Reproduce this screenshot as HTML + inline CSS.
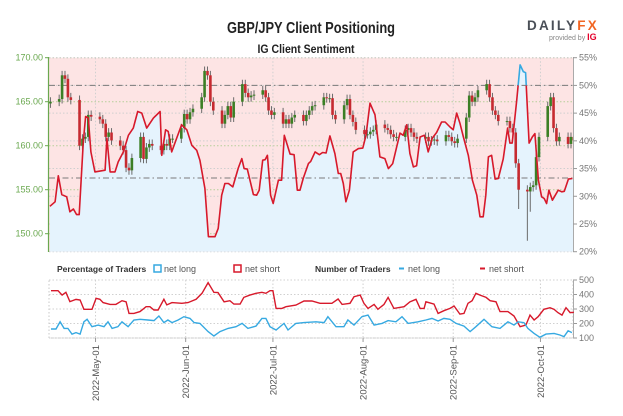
<!DOCTYPE html>
<html><head><meta charset="utf-8"><style>
html,body{margin:0;padding:0;background:#fff;}
svg{display:block;font-family:"Liberation Sans",sans-serif;}
</style></head><body>
<svg id="chart" width="623" height="416" viewBox="0 0 623 416" xmlns="http://www.w3.org/2000/svg">
<defs>
<clipPath id="plotClip"><rect x="49" y="57.7" width="524" height="194"/></clipPath>
<clipPath id="aboveHalf"><rect x="49" y="0" width="524" height="85.4"/></clipPath>
<clipPath id="belowHalf"><rect x="49" y="85.4" width="524" height="200"/></clipPath>
</defs>
<text x="311" y="33" text-anchor="middle" font-size="16" font-weight="bold" fill="#222" textLength="168" lengthAdjust="spacingAndGlyphs">GBP/JPY Client Positioning</text>
<text x="306" y="53" text-anchor="middle" font-size="12" font-weight="bold" fill="#222" textLength="97" lengthAdjust="spacingAndGlyphs">IG Client Sentiment</text>
<g>
<text x="527" y="30" font-size="13.5" font-weight="bold" fill="#4a4f57" letter-spacing="2.2">DAILY<tspan fill="#f26522">FX</tspan></text>
<text x="549" y="40" font-size="7" fill="#888">provided by <tspan fill="#e4002b" font-weight="bold" font-size="9">IG</tspan></text>
</g>
<rect x="49" y="57.7" width="524" height="194" fill="#fde4e4"/>
<g id="grid"></g>
<g id="pctFill" clip-path="url(#plotClip)"></g>
<g id="refLines"></g>
<g id="candles" clip-path="url(#plotClip)"></g>
<g id="pctLine"></g>
<g id="axes"></g>
<g font-size="9" fill="#333">
<text x="57" y="272" font-weight="bold" font-size="8.5">Percentage of Traders</text>
<rect x="154" y="265" width="7" height="7" fill="none" stroke="#36a9e1" stroke-width="1.5"/>
<text x="164" y="272" fill="#555">net long</text>
<rect x="234" y="265" width="7" height="7" fill="none" stroke="#d7192b" stroke-width="1.5"/>
<text x="245" y="272" fill="#555">net short</text>
<text x="315" y="272" font-weight="bold" font-size="8.5">Number of Traders</text>
<line x1="399" y1="268.5" x2="404" y2="268.5" stroke="#36a9e1" stroke-width="2"/>
<text x="408" y="272" fill="#555">net long</text>
<line x1="480" y1="268.5" x2="485" y2="268.5" stroke="#d7192b" stroke-width="2"/>
<text x="489" y="272" fill="#555">net short</text>
</g>
<g id="lower"></g>
</svg>
<script>
// ---- data ----
const monthLabels = ["2022-May-01","2022-Jun-01","2022-Jul-01","2022-Aug-01","2022-Sep-01","2022-Oct-01"];
const monthDays = [16,47,77,108,139,169];
const priceTicks = [150,155,160,165,170];
const pctTicks = [20,25,30,35,40,45,50,55];
const countTicks = [100,200,300,400,500];
const refPcts = [50,33.3];

const pctDays = [0.3,2.1,3.2,4.4,6.1,7.2,8.4,9.5,10.4,11.8,12.6,13.5,14.4,15.8,19.3,19.9,21,22.7,23.8,25.6,27.3,29,30.5,31.9,33.6,35.9,38.2,38.8,40.1,41,42.2,43.9,45.6,47.4,49.1,50.8,51.9,53.6,54.8,57.1,58.2,59.4,60.5,61.7,63.2,65.1,66.3,67.1,68.2,70.3,71.4,72.3,73.5,74.3,75.1,76.2,77.1,78.9,80,80.9,82.9,84.3,85.4,86.3,87.4,89.2,90,91.5,93,94.1,95.3,96.6,98.3,99.5,100.3,101.2,102.1,103.3,104.6,106.4,107.9,109,110.4,112.1,113.8,115.5,116.7,118.2,119,120.7,121.8,123,124.1,125.3,126.4,127.6,129.1,130.4,131.8,133.3,135,136.2,137.9,139,140.2,141.3,142.5,144.2,145.6,147.1,148.2,149.3,150.2,151.1,152.2,153.4,154.5,156.2,157.7,158.5,159.3,160.8,162,163.1,163.9,165.1,166.2,167.1,168.3,169.4,170.3,171.1,171.9,173.1,175.1,176.3,177.2,178.6,180];
const pctLong = [28.2,29.0,33.7,30.3,29.9,27.2,27.7,26.7,26.7,39.8,44.4,44.1,38.0,34.4,34.7,40.5,34.4,34.4,36.2,38.0,41.0,42.3,45.3,45.0,42.3,44.1,45.3,37.4,42.0,41.7,38.0,40.5,42.9,42.0,39.2,38.3,36.5,31.4,22.7,22.7,24.2,30.2,32.3,32.3,31.7,35.1,36.8,35.0,34.9,30.3,30.2,31.1,36.5,36.6,37.4,30.2,28.7,32.9,32.9,41.0,37.6,37.5,31.1,31.1,33.2,35.9,36.3,38.0,37.5,37.9,37.8,40.9,37.7,34.1,34.1,32.3,29.0,31.1,38.0,38.6,38.7,41.0,46.8,44.7,37.1,36.8,35.0,35.9,37.7,41.4,41.0,42.9,37.7,35.3,35.5,40.7,41.0,38.0,40.5,41.5,43.4,43.4,42.5,42.0,45.0,43.2,40.7,37.4,32.9,30.2,26.3,26.3,30.2,37.1,37.4,33.1,33.2,36.7,42.3,39.6,39.6,47.1,53.7,52.5,52.3,39.6,40.7,41.3,32.9,29.9,29.6,28.7,31.1,29.3,31.1,30.8,30.9,33.1,33.2,33.2];

const closes = [165.0,
165.3,168.0,167.6,165.5,165.2, 160.0,160.8,161.0,163.5,163.3, 163.0,162.5,161.0,161.5,160.6,
160.0,159.5,157.5,157.2,158.6, 161.0,158.5,159.8,160.2,160.0, 159.5,160.2,160.0,160.8,160.8,
162.0,163.6,163.0,163.8,164.2, 165.5,168.5,168.0,165.0,164.0, 162.5,163.5,164.5,163.2,165.0,
167.0,166.0,165.5,165.7,165.8, 166.3,165.5,164.0,163.5,163.8, 162.5,163.0,162.5,163.2,163.5,
162.8,163.5,164.0,164.5,164.6, 165.5,165.4,165.4,163.5,163.0, 164.6,165.3,163.5,162.7,161.8,
161.3,161.3,161.6,161.8,162.4, 162.0,161.8,161.3,161.0,161.0, 161.8,162.0,161.5,161.0,160.8,
161.0,160.5,160.6,160.7,160.5, 161.2,161.0,160.5,160.3,160.8, 163.2,165.7,165.0,165.5,166.3,
167.0,165.5,164.0,163.5,162.8, 162.8,162.0,161.5,158.0,155.0, 154.8,155.3,155.5,158.7,161.0,
164.5,165.5,162.0,160.5,161.0, 160.2,161.0,160.6];
const firstOpen = 164.8;
const wickSize = 0.5;
const extraLowIdx = [115,116,117];
const extraLowVal = [152.8,149.2,152.5];

const shortDays = [0.7,3.1,4.5,5.8,7.2,9.3,10.7,12,14.8,16.2,17.5,18.6,21,23,25.1,26.5,27.5,29.2,31.3,33.4,34.7,36.1,37.5,39.5,40.5,42.3,45.7,47.8,50.6,52.6,54.7,56.7,58.1,60.2,62.2,63.6,65.7,67,69.1,71.2,73.2,74.6,76,77,78.1,80.1,81.5,84.9,87.7,90.4,93.2,95.3,97.3,99.4,100.8,103.5,104.9,107,108.3,109.7,111.8,113.1,115.2,116.6,118.6,122.1,124.1,126.2,127.6,129,129.6,132.4,133.8,135.8,137.9,139.3,141.3,142.7,144.1,145.5,146.8,148.2,150.3,151.7,153.7,155.1,157.8,159.9,162,164,165.4,166.8,168.2,170.2,172.3,173.7,175,176.4,177.8,179.2,180.5];
const shortCount = [426,426,396,415,351,366,362,298,298,374,367,344,332,332,357,350,270,270,282,316,316,293,293,367,328,344,339,344,367,408,482,415,413,350,357,334,334,380,396,408,415,408,426,426,304,304,316,327,355,355,339,339,339,369,332,339,385,396,339,304,332,298,332,380,304,316,350,367,304,304,350,334,270,288,304,321,265,270,339,357,408,396,380,357,350,282,282,252,178,189,258,224,247,298,309,298,275,258,309,275,277];
const longDays = [0.7,2.4,3.8,5.2,6.5,7.9,9.3,10.7,12,13.1,14.8,16.9,18.9,20.3,21.7,23.7,25.1,27.2,29.2,31.3,34,36.1,37.8,39.5,40.9,42.3,44.4,46.4,48.5,49.9,51.9,54.7,56.7,58.8,61.6,64.3,66.4,68.4,71.2,73.2,74.6,76,78.1,80.8,82.2,84.9,87.7,91.8,94.6,95.9,98.7,101.4,102.8,104.9,107.6,109.7,111.8,114.5,116.6,119.3,121.4,123.5,126.9,129.6,131.7,133.8,135.8,137.9,140,142.7,144.8,146.8,149.6,152.3,155.1,157.8,159.9,161.3,163.3,164.7,166.8,168.8,170.9,173.7,175.7,177.1,178.5,179.8];
const longCount = [162,162,212,166,166,127,137,127,212,229,178,189,178,212,166,178,212,178,224,229,224,220,252,206,224,206,224,247,235,206,201,144,114,144,166,178,201,166,182,235,235,178,155,201,155,201,206,212,206,247,178,178,224,189,247,258,189,201,220,212,247,201,212,224,235,217,235,229,201,182,144,178,229,178,166,212,189,212,206,166,132,105,127,132,121,110,150,137];

// ---- scales ----
const X0 = 49, PXD = 2.908;
const xs = d => X0 + d * PXD;
const yPrice = p => 57.7 + (170 - p) * 8.8;
const yPct = v => 57.7 + (55 - v) * 5.543;
const yCnt = v => 280 + (500 - v) * 0.145;
const NS = "http://www.w3.org/2000/svg";
function mk(tag, attrs, parent) { const e = document.createElementNS(NS, tag); for (const k in attrs) e.setAttribute(k, attrs[k]); parent.appendChild(e); return e; }

// grid
const grid = document.getElementById('grid');
priceTicks.forEach(p => {
  const l = mk('line', {x1: 49, x2: 573, y1: yPrice(p), y2: yPrice(p), stroke: '#b6cf9a', 'stroke-width': 1, 'stroke-dasharray': '1.5,2'}, grid);
  
  
});
pctTicks.forEach(v => {
  const l = mk('line', {x1: 49, x2: 573, y1: yPct(v), y2: yPct(v), stroke: '#cfcfcf', 'stroke-width': 1, 'stroke-dasharray': '1.5,2'}, grid);
  
  
});
monthDays.forEach(d => {
  const l = mk('line', {x1: xs(d), x2: xs(d), y1: 57.7, y2: 251.7, stroke: '#cfcfcf', 'stroke-width': 1, 'stroke-dasharray': '1.5,2'}, grid);
  
  
});

// pct fill
const fillG = document.getElementById('pctFill');
let pts = pctDays.map((d, i) => xs(d).toFixed(1) + ',' + yPct(pctLong[i]).toFixed(1));
const area = mk('path', {d: 'M' + xs(pctDays[0]) + ',251.7 L' + pts.join(' L') + ' L573,' + yPct(pctLong[pctLong.length-1]).toFixed(1) + ' L573,251.7 Z', fill: '#e5f3fd'}, fillG);


const lineD = 'M' + pts.join(' L');

// ref lines
const refG = document.getElementById('refLines');
refPcts.forEach(v => {
  const l = mk('line', {x1: 49, x2: 573, y1: yPct(v), y2: yPct(v), stroke: '#7a7a7a', 'stroke-width': 1, 'stroke-dasharray': '6,3,1.5,3'}, refG);
  
  
});

// candles
const cg = document.getElementById('candles');
const tradeDays = [];
{ let d = 0, dow = 5; for (let i = 0; i < closes.length; i++) { tradeDays.push(d); d++; dow = (dow + 1) % 7; while (dow === 6 || dow === 0) { d++; dow = (dow + 1) % 7; } } }
closes.forEach((c, i) => {
  const o = i === 0 ? firstOpen : closes[i - 1];
  const hi = Math.max(o, c) + wickSize;
  const k = extraLowIdx.indexOf(i);
  const lo = k >= 0 ? extraLowVal[k] : Math.min(o, c) - wickSize;
  const x = xs(tradeDays[i] + 0.5);
  const w = mk('line', {x1: x, x2: x, y1: yPrice(hi), y2: yPrice(lo), stroke: '#6b6b6b', 'stroke-width': 1}, cg);
  
  
  const top = yPrice(Math.max(o, c)), bot = yPrice(Math.min(o, c));
  const b = mk('rect', {x: x - 1.3, y: top, width: 2.6, height: Math.max(1, bot - top), fill: c >= o ? '#3c7f25' : '#c62a30'}, cg);
  
  
});

// pct line
const lg = document.getElementById('pctLine');
const lr = mk('path', {d: lineD, fill: 'none', stroke: '#d7192b', 'stroke-width': 1.6, 'clip-path': 'url(#belowHalf)', 'stroke-linejoin': 'round'}, lg);


const lb = mk('path', {d: lineD, fill: 'none', stroke: '#36a9e1', 'stroke-width': 1.6, 'clip-path': 'url(#aboveHalf)', 'stroke-linejoin': 'round'}, lg);



// axes
const ax = document.getElementById('axes');
const la = mk('line', {x1: 48.5, x2: 48.5, y1: 57, y2: 252, stroke: '#6aa84f', 'stroke-width': 1.2}, ax);


const ra = mk('line', {x1: 573.5, x2: 573.5, y1: 57, y2: 252, stroke: '#aaa', 'stroke-width': 1}, ax);


priceTicks.forEach(p => {
  mk('line', {x1: 45, x2: 49, y1: yPrice(p), y2: yPrice(p), stroke: '#6aa84f'}, ax);
  const t = mk('text', {x: 43, y: yPrice(p) + 3, 'text-anchor': 'end', 'font-size': 9, fill: '#6aa84f'}, ax);
  t.textContent = p.toFixed(2);
  
  
});
pctTicks.forEach(v => {
  mk('line', {x1: 573, x2: 577, y1: yPct(v), y2: yPct(v), stroke: '#999'}, ax);
  const t = mk('text', {x: 579, y: yPct(v) + 3, 'font-size': 9, fill: '#777'}, ax);
  t.textContent = v + '%';
  
  
});

// lower panel
const lp = document.getElementById('lower');
const box = mk('rect', {x: 49, y: 280, width: 524, height: 58, fill: 'none', stroke: '#c8c8c8', 'stroke-dasharray': '1.5,2'}, lp);


countTicks.forEach(v => {
  mk('line', {x1: 49, x2: 573, y1: yCnt(v), y2: yCnt(v), stroke: '#d0d0d0', 'stroke-dasharray': '1.5,2'}, lp);
  mk('line', {x1: 573, x2: 577, y1: yCnt(v), y2: yCnt(v), stroke: '#999'}, lp);
  const t = mk('text', {x: 579, y: yCnt(v) + 3, 'font-size': 9, fill: '#777'}, lp);
  t.textContent = v;
  
  
});
mk('line', {x1: 573.5, x2: 573.5, y1: 280, y2: 338, stroke: '#aaa'}, lp);
monthDays.forEach((d, i) => {
  mk('line', {x1: xs(d), x2: xs(d), y1: 280, y2: 338, stroke: '#d0d0d0', 'stroke-dasharray': '1.5,2'}, lp);
  mk('line', {x1: xs(d), x2: xs(d), y1: 338, y2: 342, stroke: '#999'}, lp);
  const t = mk('text', {x: 0, y: 0, 'text-anchor': 'end', 'font-size': 9.5, fill: '#555', transform: 'translate(' + (xs(d) + 3.5) + ',345) rotate(-90)'}, lp);
  t.textContent = monthLabels[i];
  
  
});
const sp = mk('path', {d: 'M' + shortDays.map((d, i) => xs(d).toFixed(1) + ',' + yCnt(shortCount[i]).toFixed(1)).join(' L'), fill: 'none', stroke: '#d7192b', 'stroke-width': 1.4}, lp);


const bp = mk('path', {d: 'M' + longDays.map((d, i) => xs(d).toFixed(1) + ',' + yCnt(longCount[i]).toFixed(1)).join(' L'), fill: 'none', stroke: '#36a9e1', 'stroke-width': 1.4}, lp);


</script>
</body></html>
